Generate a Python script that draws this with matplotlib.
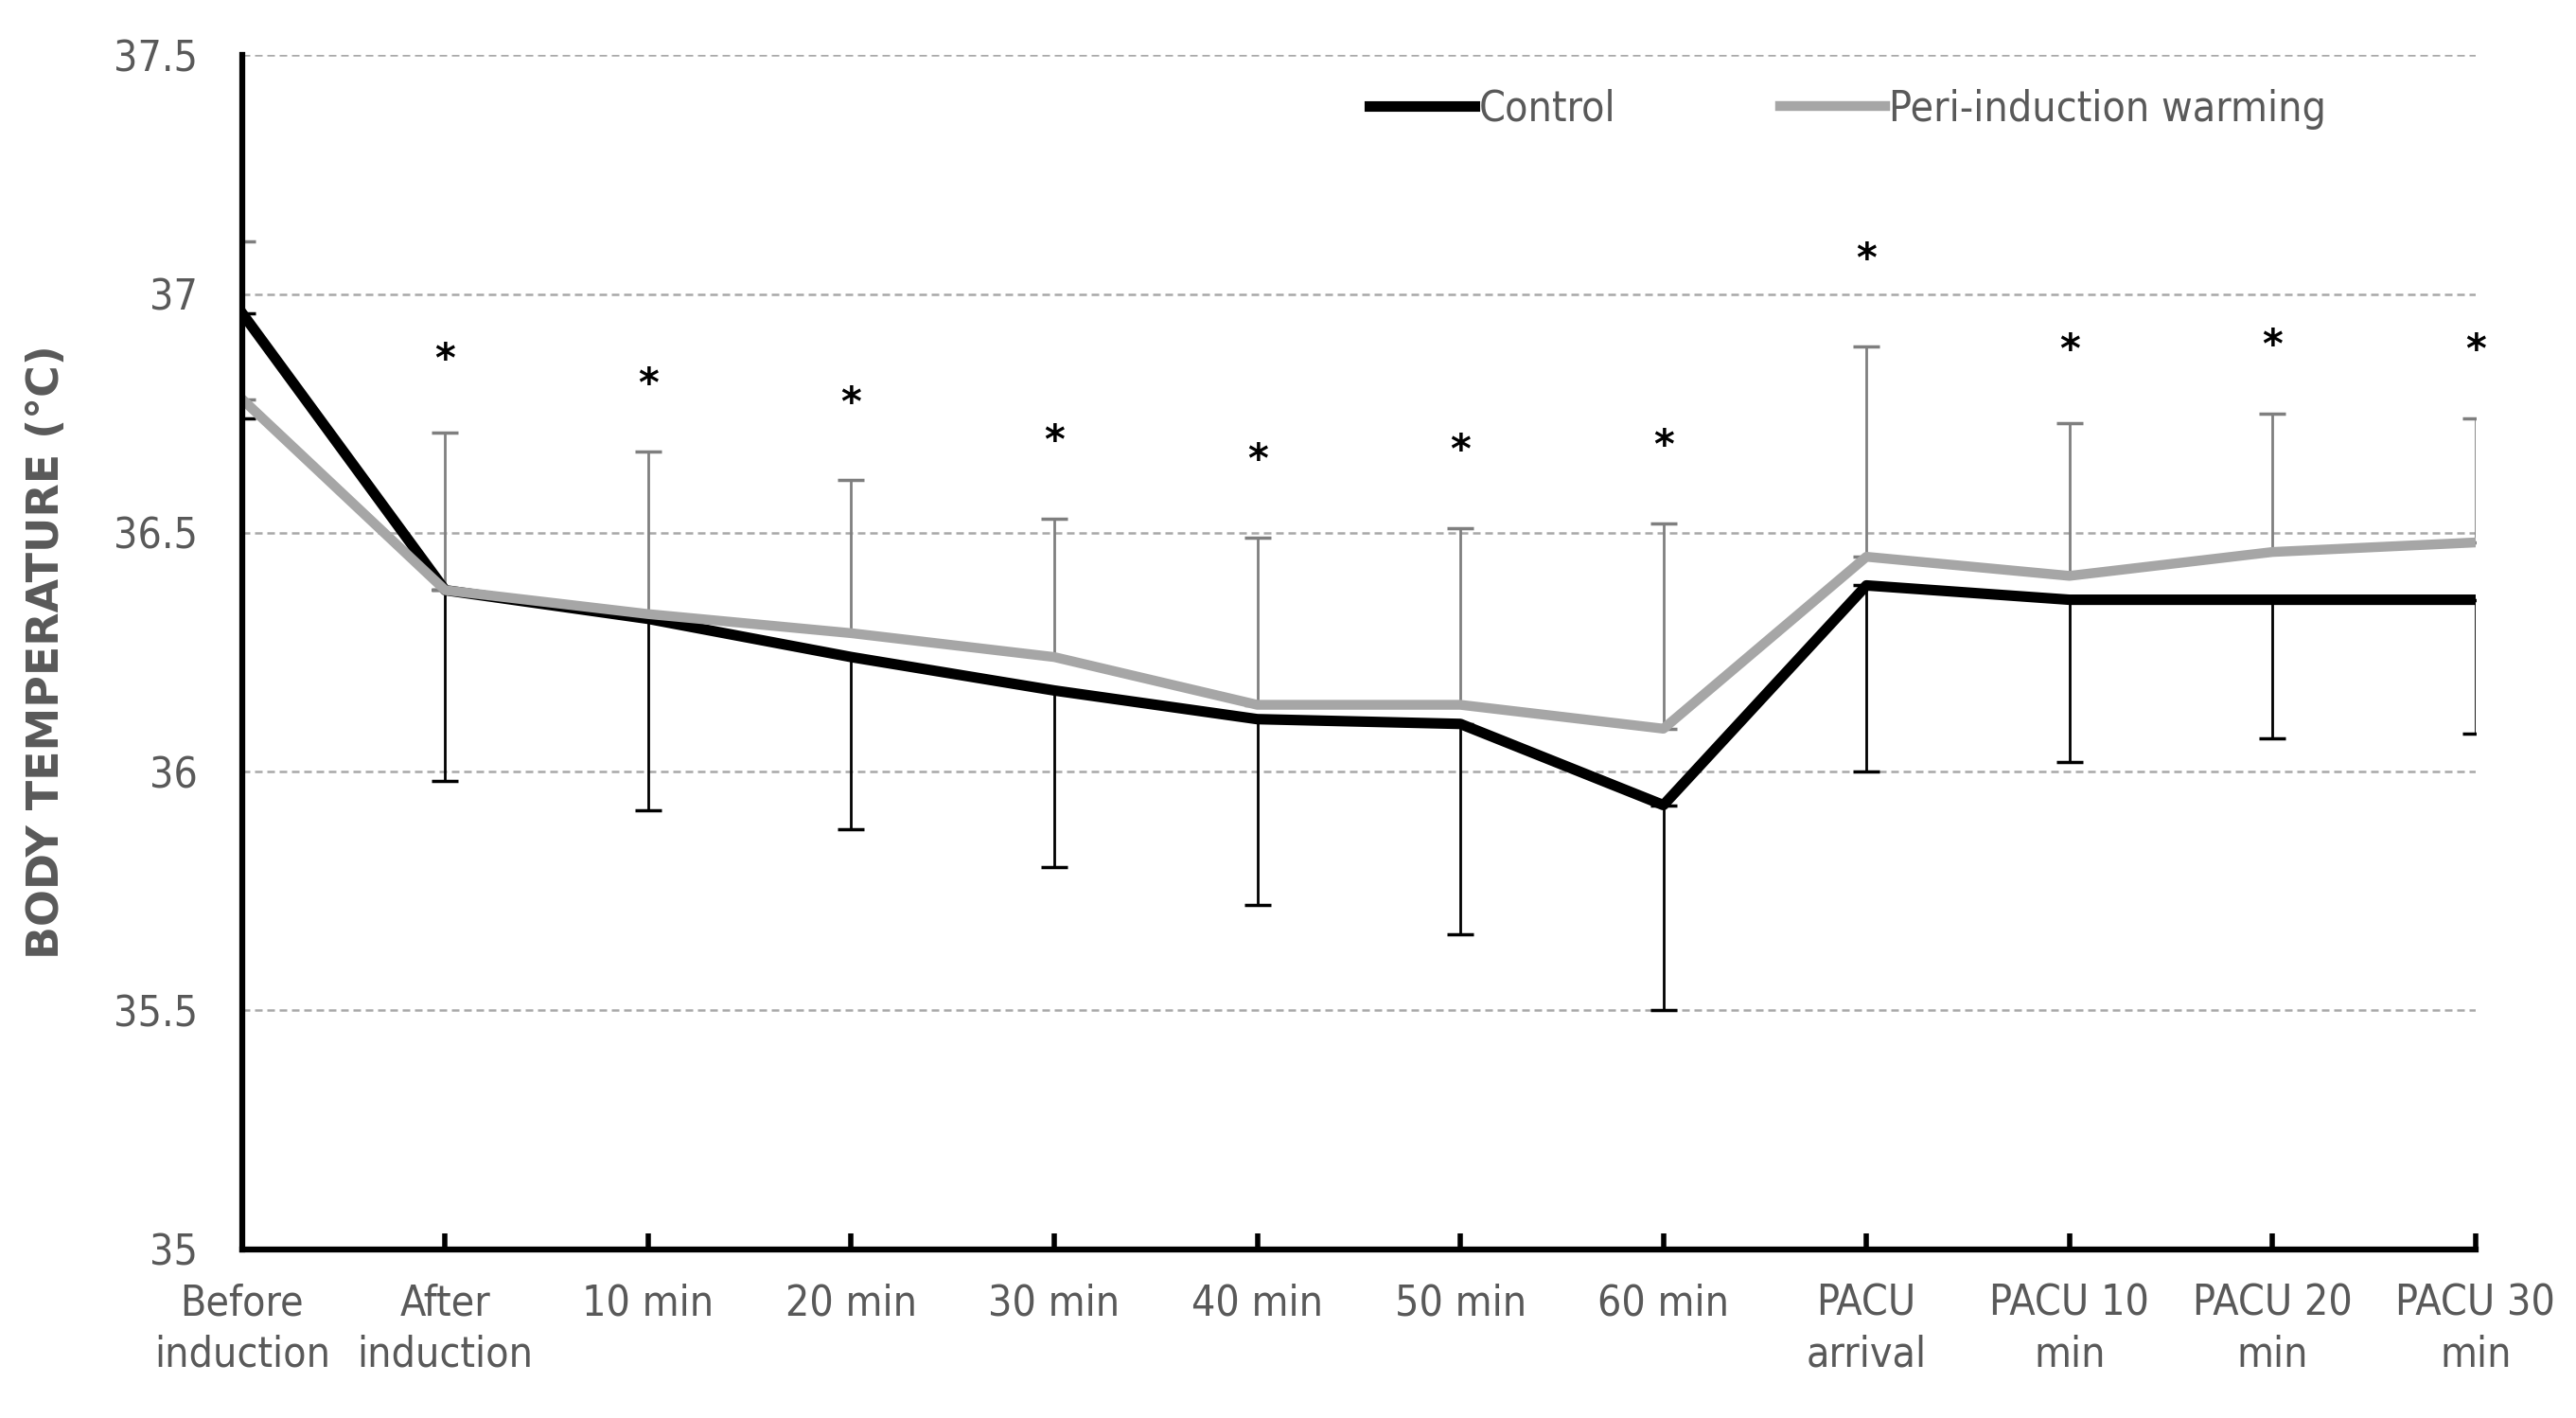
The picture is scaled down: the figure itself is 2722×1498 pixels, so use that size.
import matplotlib.pyplot as plt

# ------------------------------------
# Data
# ------------------------------------
time_labels = ["Before\ninduction", "After\ninduction", "10 min", "20 min", "30 min",
               "40 min", "50 min", "60 min", "PACU\narrival", "PACU 10\nmin",
               "PACU 20\nmin", "PACU 30\nmin"]

control_mean = [36.96, 36.38, 36.32, 36.24, 36.17, 36.11, 36.10, 35.93,
                36.39, 36.36, 36.36, 36.36]
control_sd = [0.22, 0.40, 0.40, 0.36, 0.37, 0.39, 0.44, 0.43,
              0.39, 0.34, 0.29, 0.28]

warming_mean = [36.78, 36.38, 36.33, 36.29, 36.24, 36.14, 36.14, 36.09,
                36.45, 36.41, 36.46, 36.48]
warming_sd = [0.33, 0.33, 0.34, 0.32, 0.29, 0.35, 0.37, 0.43,
              0.44, 0.32, 0.29, 0.26]

# asterisk heights (significance marks)
star_y = [None, 36.86, 36.81, 36.77, 36.69, 36.65, 36.67, 36.68,
          37.07, 36.88, 36.89, 36.88]

# ------------------------------------
# Style
# ------------------------------------
txt_color = "#595959"
font = {"family": "DejaVu Sans", "stretch": "condensed", "size": 32}

x = list(range(len(time_labels)))

fig = plt.figure(figsize=(27.22, 14.98), dpi=100)
ax = fig.add_axes([0.094, 0.119, 0.867, 0.842])

# grid lines
for g in [35.5, 36, 36.5, 37, 37.5]:
    ax.axhline(g, color="#a8a8a8", lw=1.8, ls=(0, (3.2, 2)), zorder=1)

# error bars: control downward, warming upward
ax.errorbar(x, control_mean, yerr=[control_sd, [0] * len(x)], fmt="none",
            ecolor="black", elinewidth=2, capsize=10, capthick=2.5, zorder=2)
ax.errorbar(x, warming_mean, yerr=[[0] * len(x), warming_sd], fmt="none",
            ecolor="#7f7f7f", elinewidth=2, capsize=10, capthick=2.5, zorder=2)

ax.plot(x, control_mean, color="black", lw=8, label="Control", zorder=3)
ax.plot(x, warming_mean, color="#a6a6a6", lw=7.5, label="Peri-induction warming", zorder=4)

for xi, sy in zip(x, star_y):
    if sy is not None:
        ax.text(xi, sy, "*", ha="center", va="center", fontsize=30,
                fontweight="bold", color="black")

ax.set_xlim(0, 11)
ax.set_ylim(35, 37.5)
ax.set_yticks([35, 35.5, 36, 36.5, 37, 37.5])
ax.set_yticklabels(["35", "35.5", "36", "36.5", "37", "37.5"])
ax.set_xticks(x)
ax.set_xticklabels(time_labels, linespacing=1.32)

for lab in ax.get_xticklabels() + ax.get_yticklabels():
    lab.set_fontfamily(font["family"])
    lab.set_fontstretch(font["stretch"])
    lab.set_fontsize(font["size"])
    lab.set_color(txt_color)

ax.tick_params(axis="y", length=0, pad=34)
ax.tick_params(axis="x", direction="in", length=12, width=4, pad=26, color="black")

ax.spines["top"].set_visible(False)
ax.spines["right"].set_visible(False)
ax.spines["left"].set_linewidth(4.5)
ax.spines["bottom"].set_linewidth(4.5)
ax.spines["left"].set_zorder(5)
ax.spines["bottom"].set_zorder(5)

ax.set_ylabel("BODY TEMPERATURE (°C)", fontsize=33, fontweight="bold", color=txt_color)
ax.yaxis.set_label_coords(-0.078, 0.5)

leg = ax.legend(loc="center", bbox_to_anchor=(0.719, 0.955), ncol=2, frameon=False,
                handlelength=2.5, handletextpad=0.1, columnspacing=3.9,
                prop=font)
for t in leg.get_texts():
    t.set_color(txt_color)

fig.savefig("out.png", dpi=100)
plt.close()
